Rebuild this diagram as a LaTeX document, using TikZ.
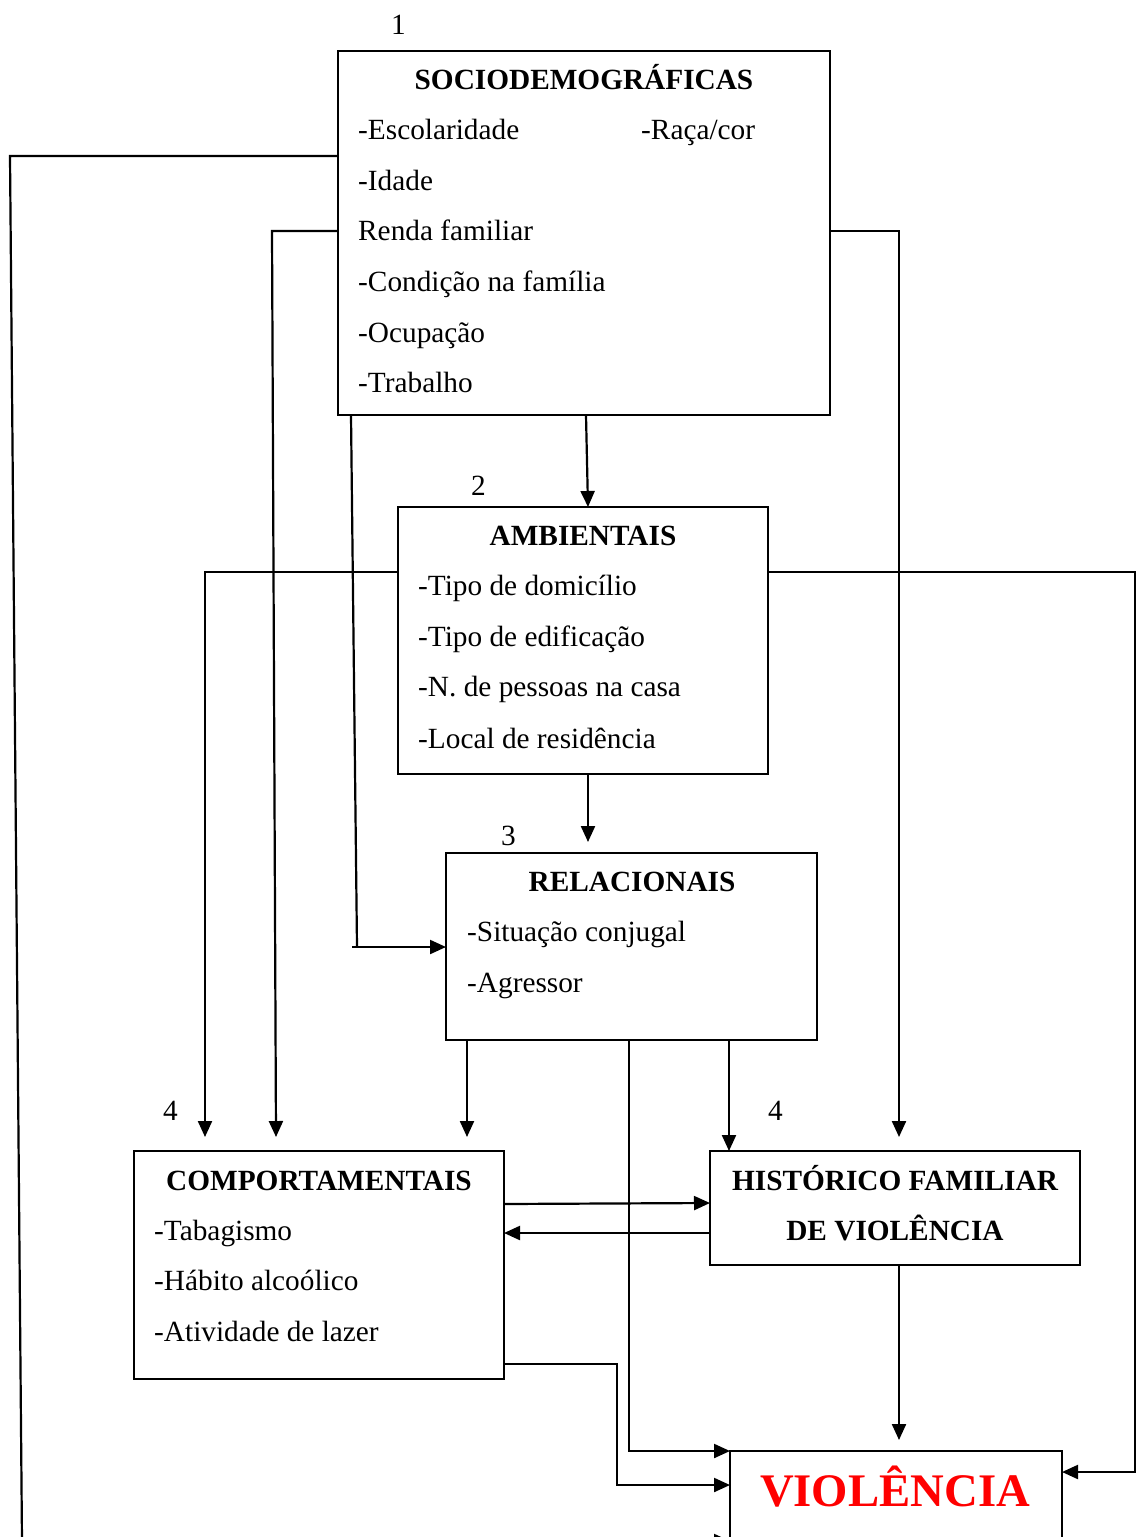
\documentclass[tikz,border=0pt]{standalone}
\usepackage{fontspec}
\setmainfont{Liberation Serif}
\usetikzlibrary{arrows.meta}
\begin{document}
\begin{tikzpicture}[x=1pt,y=-1pt,
  box/.style={draw, line width=2pt, inner sep=0pt, outer sep=0pt, anchor=north west},
  txt/.style={anchor=base west, inner sep=0pt, font=\fontsize{29.3}{35}\selectfont},
  ttl/.style={anchor=base, inner sep=0pt, font=\fontsize{29.3}{35}\selectfont\bfseries},
  conn/.style={line width=2.2pt},
  arr/.style={line width=2.2pt, -{Triangle[length=16pt,width=14pt]}}]
\useasboundingbox (0,0) rectangle (1136,1537);
\clip (0,0) rectangle (1136,1537);
% boxes
\node[box, minimum width=492pt, minimum height=364pt] (soc) at (338,51) {};
\node[box, minimum width=370pt, minimum height=267pt] (amb) at (398,507) {};
\node[box, minimum width=371pt, minimum height=187pt] (rel) at (446,853) {};
\node[box, minimum width=370pt, minimum height=228pt] (com) at (134,1151) {};
\node[box, minimum width=370pt, minimum height=114pt] (his) at (710,1151) {};
\node[box, minimum width=332pt, minimum height=120pt] (vio) at (730,1451) {};
% labels
\node[txt] (n1) at (391,34) {1};
\node[txt] (n2) at (471,495) {2};
\node[txt] (n3) at (501,845) {3};
\node[txt] (n4a) at (163,1120) {4};
\node[txt] (n4b) at (768,1120) {4};
% socio texts
\node[ttl] (socT) at (584,89) {SOCIODEMOGRÁFICAS};
\node[txt] (s1) at (358,139) {-Escolaridade};
\node[txt] (s2) at (641,139) {-Raça/cor};
\node[txt] (s3) at (358,190) {-Idade};
\node[txt] (s4) at (358,240) {Renda familiar};
\node[txt] (s5) at (358,291) {-Condição na família};
\node[txt] (s6) at (358,342) {-Ocupação};
\node[txt] (s7) at (358,392) {-Trabalho};
% ambientais
\node[ttl] (ambT) at (583,545) {AMBIENTAIS};
\node[txt] (a1) at (418,595) {-Tipo de domicílio};
\node[txt] (a2) at (418,646) {-Tipo de edificação};
\node[txt] (a3) at (418,696) {-N. de pessoas na casa};
\node[txt] (a4) at (418,748) {-Local de residência};
% relacionais
\node[ttl] (relT) at (632,891) {RELACIONAIS};
\node[txt] (r1) at (467,941) {-Situação conjugal};
\node[txt] (r2) at (467,992) {-Agressor};
% comportamentais
\node[ttl] (comT) at (319,1190) {COMPORTAMENTAIS};
\node[txt] (c1) at (154,1240) {-Tabagismo};
\node[txt] (c2) at (154,1290) {-Hábito alcoólico};
\node[txt] (c3) at (154,1341) {-Atividade de lazer};
% historico
\node[ttl] (hisT1) at (895,1190) {HISTÓRICO FAMILIAR};
\node[ttl] (hisT2) at (895,1240) {DE VIOLÊNCIA};
% violencia
\node[anchor=base, inner sep=0pt, text=red, font=\fontsize{46.7}{50}\selectfont\bfseries] (vioT) at (895,1506) {VIOLÊNCIA};
% connectors
\coordinate (p1) at (10,156);
\coordinate (p2) at (22,1541);
\draw[arr] (soc.west |- 0,156) -- (p1) -- (p2) -- (vio.west |- p2);
\coordinate (q1) at (272,231);
\coordinate (q2) at (276,1137);
\draw[arr] (soc.west |- 0,231) -- (q1) -- (q2);
\coordinate (w1) at (899,231);
\coordinate (w2) at (899,1137);
\draw[arr] (soc.east |- 0,231) -- (w1) -- (w2);
\draw[arr] (586,415) -- (amb.north -| 588,0);
\coordinate (t1) at (357,947);
\draw[conn] (351,415) -- (t1);
\draw[arr] (352,947) -- (rel.west |- 0,947);
\coordinate (u1) at (205,572);
\coordinate (u2) at (205,1137);
\draw[arr] (amb.west |- 0,572) -- (u1) -- (u2);
\coordinate (v1) at (1135,572);
\coordinate (v2) at (1135,1472);
\draw[arr] (amb.east |- 0,572) -- (v1) -- (v2) -- (vio.east |- v2);
\coordinate (b1) at (588,842);
\draw[arr] (amb.south -| b1) -- (b1);
\coordinate (c4) at (467,1137);
\draw[arr] (rel.south -| c4) -- (c4);
\draw[arr] (rel.south -| 729,0) -- (his.north -| 729,0);
\coordinate (d1) at (629,1451);
\draw[arr] (rel.south -| d1) -- (d1) -- (vio.north west);
\draw[arr] (com.east |- 0,1204) -- (his.west |- 0,1203);
\draw[arr] (his.west |- 0,1233) -- (com.east |- 0,1233);
\coordinate (e1) at (617,1364);
\coordinate (e2) at (617,1485);
\draw[arr] (com.east |- e1) -- (e1) -- (e2) -- (vio.west |- e2);
\coordinate (f1) at (899,1440);
\draw[arr] (his.south -| f1) -- (f1);
\end{tikzpicture}
\end{document}
